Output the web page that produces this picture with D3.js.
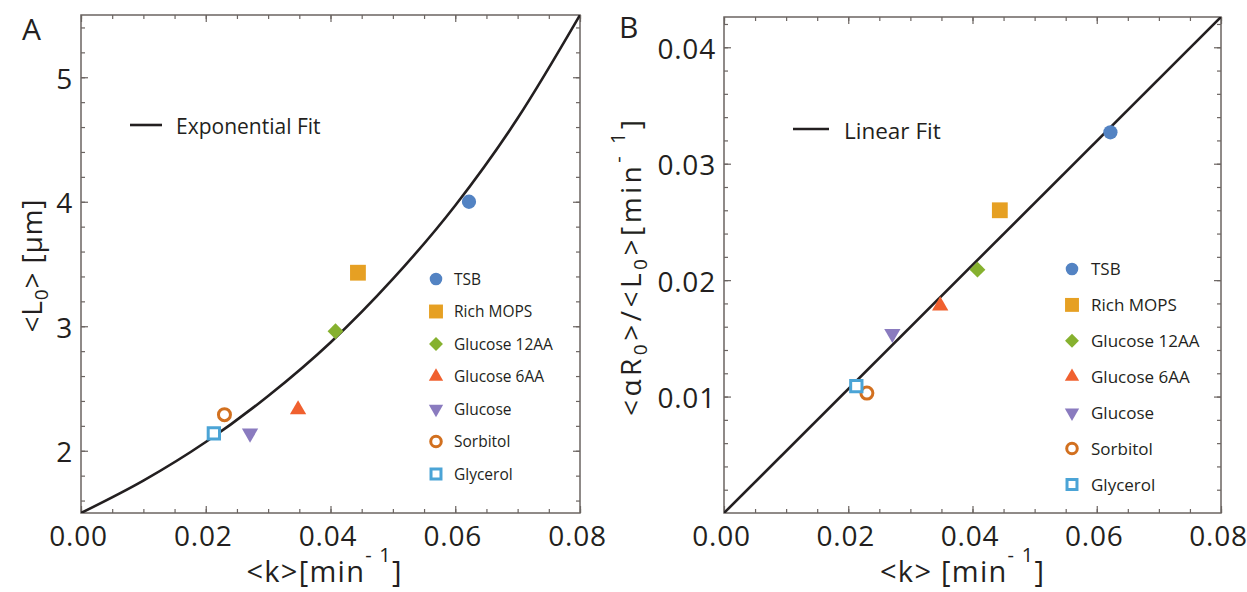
<!DOCTYPE html>
<html>
<head>
<meta charset="utf-8">
<script src="https://cdn.jsdelivr.net/npm/d3@7"></script>
<style>
  html, body { margin: 0; padding: 0; background: #fff; }
  svg { display: block; }
  text { font-family: "Open Sans", "Noto Sans", sans-serif; fill: #231f20; }
</style>
</head>
<body>
<svg id="chart" width="1247" height="592"></svg>
<script>
// ---- data ----
const media = ["TSB", "Rich MOPS", "Glucose 12AA", "Glucose 6AA", "Glucose", "Sorbitol", "Glycerol"];
const growthRate = [0.0622, 0.0444, 0.0408, 0.0348, 0.0271, 0.0230, 0.0213];   // <k> [min^-1]
const birthLength = [4.00, 3.43, 2.96, 2.33, 2.14, 2.29, 2.14];                // <L0> [um]
const ratioAR = [0.0327, 0.0260, 0.0209, 0.0178, 0.0154, 0.0103, 0.0109];      // <aR0>/<L0>
const colors = ["#5383c3", "#e6a023", "#86b12f", "#f0602f", "#8a7bbf", "#d2701f", "#4ba4d6"];
const shapes = ["circle", "square", "diamond", "triangle", "triangleDown", "circleOpen", "squareOpen"];

// fit curves
const expFitK = [0, 0.01, 0.02, 0.03, 0.04, 0.05, 0.06, 0.07, 0.08];
const expFitL = [1.50, 1.76, 2.07, 2.44, 2.87, 3.38, 3.97, 4.67, 5.50];
const linFitK = [0, 0.08];
const linFitR = [0, 0.0426];

const xTicks = [0.00, 0.02, 0.04, 0.06, 0.08];
const yTicksA = [2, 3, 4, 5];
const yTicksB = [0.01, 0.02, 0.03, 0.04];

// ---- drawing ----
const svg = d3.select("#chart");
const ink = "#231f20";
const frameColor = "#6b6461";

function symbolPath(shape, scale) {
  const s = scale || 1;
  switch (shape) {
    case "circle": return { d: d3.symbol(d3.symbolCircle, 160 * s * s)(), rot: 0, fill: true };
    case "square": return { d: d3.symbol(d3.symbolSquare, 250 * s * s)(), rot: 0, fill: true };
    case "diamond": return { d: d3.symbol(d3.symbolSquare, 125 * s * s)(), rot: 45, fill: true };
    case "triangle": return { d: d3.symbol(d3.symbolTriangle, 115 * s * s)(), rot: 0, fill: true };
    case "triangleDown": return { d: d3.symbol(d3.symbolTriangle, 115 * s * s)(), rot: 180, fill: true };
    case "circleOpen": return { d: d3.symbol(d3.symbolCircle, 113 * s * s)(), rot: 0, fill: false };
    case "squareOpen": return { d: d3.symbol(d3.symbolSquare, 128 * s * s)(), rot: 0, fill: false };
  }
}

function drawMarker(g, shape, color, x, y, scale) {
  const p = symbolPath(shape, scale);
  g.append("path")
    .attr("d", p.d)
    .attr("transform", `translate(${x},${y}) rotate(${p.rot})`)
    .attr("fill", p.fill ? color : "#fff")
    .attr("stroke", p.fill ? "none" : color)
    .attr("stroke-width", p.fill ? 0 : 3);
}

function panel(cfg) {
  const x = d3.scaleLinear().domain([0, 0.08]).range([cfg.left, cfg.right]);
  const y = d3.scaleLinear().domain(cfg.yDomain).range([cfg.bottom, cfg.top]);
  const g = svg.append("g");

  // minor ticks (all 4 sides, inward)
  const xMinor = d3.range(0, 0.08 + 1e-9, 0.005);
  const yMinor = d3.range(cfg.yMinorStart, cfg.yDomain[1] + 1e-9, cfg.yMinorStep);
  const minorStyle = sel => { sel.select(".domain").remove(); sel.selectAll("line").attr("stroke", frameColor).attr("stroke-width", 1.2); sel.selectAll("text").remove(); };
  g.append("g").attr("transform", `translate(0,${cfg.bottom})`).call(d3.axisBottom(x).tickValues(xMinor).tickSize(-4).tickFormat("")).call(minorStyle);
  g.append("g").attr("transform", `translate(0,${cfg.top})`).call(d3.axisTop(x).tickValues(xMinor).tickSize(-4).tickFormat("")).call(minorStyle);
  g.append("g").attr("transform", `translate(${cfg.left},0)`).call(d3.axisLeft(y).tickValues(yMinor).tickSize(-4).tickFormat("")).call(minorStyle);
  g.append("g").attr("transform", `translate(${cfg.right},0)`).call(d3.axisRight(y).tickValues(yMinor).tickSize(-4).tickFormat("")).call(minorStyle);

  // major ticks with labels
  const majorStyle = sel => { sel.select(".domain").remove(); sel.selectAll("line").attr("stroke", frameColor).attr("stroke-width", 1.2); };
  const bx = g.append("g").attr("transform", `translate(0,${cfg.bottom})`)
    .call(d3.axisBottom(x).tickValues(xTicks).tickSize(-7).tickPadding(13).tickFormat(d3.format(".2f")))
    .call(majorStyle);
  bx.selectAll("text").attr("font-size", 28).attr("letter-spacing", "0.8px").attr("fill", ink)
    .attr("font-family", '"Open Sans", sans-serif').attr("dx", -3);
  g.append("g").attr("transform", `translate(0,${cfg.top})`).call(d3.axisTop(x).tickValues(xTicks).tickSize(-7).tickFormat("")).call(majorStyle).selectAll("text").remove();
  const ly = g.append("g").attr("transform", `translate(${cfg.left},0)`)
    .call(d3.axisLeft(y).tickValues(cfg.yTicks).tickSize(-7).tickPadding(8).tickFormat(cfg.yFormat))
    .call(majorStyle);
  ly.selectAll("text").attr("font-size", 28).attr("letter-spacing", "0.8px").attr("fill", ink)
    .attr("font-family", '"Open Sans", sans-serif').attr("dy", "0.40em");
  g.append("g").attr("transform", `translate(${cfg.right},0)`).call(d3.axisRight(y).tickValues(cfg.yTicks).tickSize(-7).tickFormat("")).call(majorStyle).selectAll("text").remove();

  // frame
  g.append("rect").attr("x", cfg.left).attr("y", cfg.top)
    .attr("width", cfg.right - cfg.left).attr("height", cfg.bottom - cfg.top)
    .attr("fill", "none").attr("stroke", frameColor).attr("stroke-width", 1.5);

  // clip
  const clipId = "clip" + cfg.name;
  svg.append("clipPath").attr("id", clipId).append("rect")
    .attr("x", cfg.left).attr("y", cfg.top).attr("width", cfg.right - cfg.left).attr("height", cfg.bottom - cfg.top);

  // fit line
  const line = d3.line().x(d => x(d[0])).y(d => y(d[1])).curve(d3.curveMonotoneX);
  g.append("path").datum(d3.zip(cfg.fitX, cfg.fitY))
    .attr("d", line).attr("fill", "none").attr("stroke", ink).attr("stroke-width", 2.6)
    .attr("clip-path", `url(#${clipId})`);

  // points
  const pts = g.append("g");
  media.forEach((m, i) => drawMarker(pts, shapes[i], colors[i], x(growthRate[i]), y(cfg.values[i]), 1));

  // fit legend
  g.append("line").attr("x1", cfg.fitLeg.x1).attr("x2", cfg.fitLeg.x2)
    .attr("y1", cfg.fitLeg.y).attr("y2", cfg.fitLeg.y).attr("stroke", ink).attr("stroke-width", 2.6);
  g.append("text").attr("x", cfg.fitLeg.tx).attr("y", cfg.fitLeg.ty)
    .attr("font-size", cfg.fitLeg.size).text(cfg.fitLeg.label);

  // media legend
  const lg = g.append("g");
  media.forEach((m, i) => {
    const yy = cfg.leg.y0 + i * cfg.leg.dy;
    drawMarker(lg, shapes[i], colors[i], cfg.leg.sx, yy, 0.88);
    lg.append("text").attr("x", cfg.leg.tx).attr("y", yy + cfg.leg.size * 0.37)
      .attr("font-size", cfg.leg.size).text(m);
  });

  return { x, y, g };
}

const A = panel({
  name: "A", left: 81, right: 580, top: 15, bottom: 513,
  yDomain: [1.5, 5.5], yTicks: yTicksA, yMinorStart: 1.6, yMinorStep: 0.2, yFormat: d3.format("d"),
  values: birthLength, fitX: expFitK, fitY: expFitL,
  fitLeg: { x1: 130, x2: 162, y: 125, tx: 176, ty: 134, size: 21, label: "Exponential Fit" },
  leg: { sx: 436, tx: 454, y0: 279, dy: 32.5, size: 15.5 }
});

const B = panel({
  name: "B", left: 724, right: 1221, top: 17, bottom: 513,
  yDomain: [0, 0.0426], yTicks: yTicksB, yMinorStart: 0.002, yMinorStep: 0.002, yFormat: d3.format(".2f"),
  values: ratioAR, fitX: linFitK, fitY: linFitR,
  fitLeg: { x1: 793, x2: 829, y: 129, tx: 844, ty: 139, size: 22.5, label: "Linear Fit" },
  leg: { sx: 1072, tx: 1091, y0: 269, dy: 35.9, size: 17 }
});

// panel letters
svg.append("text").attr("x", 22).attr("y", 40).attr("font-size", 30).text("A");
svg.append("text").attr("x", 619).attr("y", 38).attr("font-size", 30).text("B");

// axis titles
function xTitle(cx, spaced, len) {
  const t = svg.append("text").attr("x", cx).attr("y", 582).attr("font-size", 29)
    .attr("text-anchor", "middle").attr("textLength", len).attr("lengthAdjust", "spacing");
  t.append("tspan").text(spaced ? "<k> [min" : "<k>[min");
  t.append("tspan").attr("font-size", 20).attr("dy", -20).text("- 1");
  t.append("tspan").attr("dy", 20).text("]");
}
xTitle(324, false, 155);
xTitle(962, true, 164);

// y title A
const yA = svg.append("text").attr("transform", "translate(42,266) rotate(-90)")
  .attr("font-size", 28).attr("text-anchor", "middle").attr("textLength", 133).attr("lengthAdjust", "spacing");
yA.append("tspan").text("<L");
yA.append("tspan").attr("font-size", 19).attr("dy", 6).text("0");
yA.append("tspan").attr("dy", -6).text("> [μm]");

// y title B
const yB = svg.append("text").attr("transform", "translate(641,268) rotate(-90)")
  .attr("font-size", 28).attr("text-anchor", "middle").attr("textLength", 296).attr("lengthAdjust", "spacing");
yB.append("tspan").text("<αR");
yB.append("tspan").attr("font-size", 19).attr("dy", 6).text("0");
yB.append("tspan").attr("dy", -6).text(">/<L");
yB.append("tspan").attr("font-size", 19).attr("dy", 6).text("0");
yB.append("tspan").attr("dy", -6).text(">[min");
yB.append("tspan").attr("font-size", 20).attr("dy", -16).text("- 1");
yB.append("tspan").attr("dy", 16).text("]");
</script>
</body>
</html>
